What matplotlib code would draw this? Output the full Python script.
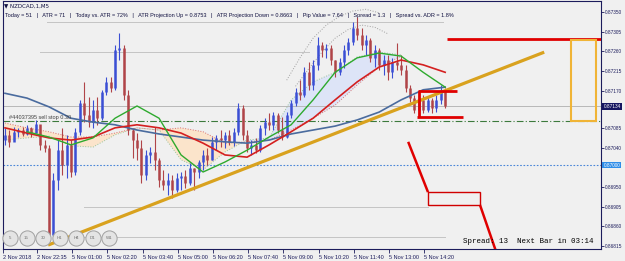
import numpy as np
import matplotlib.pyplot as plt
from matplotlib.patches import Rectangle
import matplotlib.transforms as mtransforms

plt.rcParams['font.family'] = ['Liberation Sans', 'DejaVu Sans']

# all prices below are points (1e-5) above BASE
BASE = 0.868

# candles, each one covers two M5 bars
open_first = 257
close_pts = [269, 253, 276, 280, 271, 285, 273, 294, 246, 239,
             40, 166, 234, 200, 246, 184, 276, 342, 314, 298,
             326, 307, 367, 390, 376, 463, 468, 360, 280, 257,
             239, 177, 223, 230, 212, 166, 154, 166, 143, 170,
             175, 159, 193, 184, 207, 223, 212, 253, 262, 257,
             269, 253, 276, 330, 269, 239, 246, 234, 285, 298,
             292, 314, 280, 264, 314, 342, 367, 360, 412, 383,
             429, 474, 463, 468, 440, 412, 435, 463, 481, 513,
             497, 474, 486, 445, 463, 429, 440, 412, 435, 429,
             417, 376, 353, 326, 349, 326, 349, 330, 349, 372,
             334]
high_pts = [285, 280, 287, 285, 287, 292, 287, 303, 292, 257,
            246, 182, 257, 285, 269, 257, 285, 349, 390, 355,
            349, 355, 372, 401, 401, 474, 502, 474, 372, 285,
            273, 257, 234, 241, 287, 216, 189, 182, 177, 182,
            184, 189, 205, 193, 212, 234, 239, 264, 269, 280,
            276, 280, 285, 342, 337, 280, 257, 262, 292, 307,
            319, 321, 319, 310, 321, 349, 376, 394, 424, 435,
            440, 493, 481, 477, 474, 440, 445, 474, 490, 527,
            538, 513, 497, 490, 474, 468, 452, 452, 445, 479,
            452, 429, 383, 360, 360, 360, 355, 353, 360, 383,
            376]
low_pts = [246, 241, 257, 264, 266, 269, 264, 273, 234, 230,
           17, 29, 143, 177, 170, 173, 177, 269, 298, 287,
           285, 292, 303, 360, 367, 372, 440, 349, 269, 216,
           212, 159, 166, 205, 189, 150, 143, 131, 124, 138,
           143, 147, 154, 143, 170, 189, 200, 212, 234, 241,
           239, 246, 244, 269, 257, 230, 223, 228, 230, 269,
           280, 280, 273, 257, 262, 307, 335, 349, 355, 372,
           372, 417, 447, 445, 429, 401, 406, 422, 452, 474,
           486, 463, 452, 435, 424, 417, 406, 394, 399, 417,
           406, 367, 344, 319, 314, 319, 321, 319, 321, 340,
           330]

# moving averages, read every 5 candles
ma_idx = list(range(0, 101, 5))
blue_ma = [364, 353, 333, 307, 298, 292, 280, 271, 264, 257, 253,
           250, 257, 271, 280, 289, 303, 321, 349, 372, 378]
red_ma = [285, 273, 262, 257, 264, 285, 292, 285, 273, 250, 223,
          218, 246, 276, 307, 349, 390, 424, 440, 429, 412]
green_idx = list(range(5, 101, 5))
green_ma = [276, 264, 246, 262, 307, 335, 307, 223, 184, 207,
            234, 264, 292, 349, 412, 445, 456, 449, 412, 378]

# cloud spans
cloud_idx = list(range(0, 91, 5))
span_a = [257, 262, 266, 244, 241, 269, 285, 280, 212, 189,
          230, 257, 262, 349, 390, 412, 447, 458, 452]
span_b = [296, 285, 276, 264, 264, 273, 285, 280, 285, 276,
          250, 253, 257, 280, 307, 337, 383, 424, 449]

# dotted envelopes above the rally
env1_idx = [64, 67, 70, 73, 76, 79, 82, 85]
env1 = [394, 445, 490, 520, 540, 552, 556, 548]
env2_idx = [66, 69, 72, 75, 78, 81, 84, 87]
env2 = [380, 420, 458, 490, 510, 520, 515, 500]

# gray levels: price, from candle, to candle
level_pts = [527, 458, 104, 35]
level_from = [9.5, 8, 18, 18]
level_to = [99.5, 69, 96, 100]

order_pts = 301
order_label = '#44037395 sell stop 0.30'
alert_pts = 200

# drawn objects (candle index, points)
trend_line = [(9.8, 17), (122.5, 458)]
red_top = [(100.5, 488), (135.4, 488)]
red_box_top = [(93.9, 369), (102.7, 369)]
red_box_bottom = [(93.6, 310), (104.1, 310)]
red_box_left = [(94.1, 310), (94.1, 369)]
red_down1 = [(91.6, 253), (96.1, 138)]
red_small_box = [(96.1, 109), (107.9, 138)]
red_down2 = [(107.9, 109), (111.6, 1)]
orange_box = [(128.6, 301), (134.3, 486)]

price_ticks = [0.87350, 0.87305, 0.87260, 0.87215, 0.87170, 0.87085,
               0.87040, 0.86950, 0.86905, 0.86860, 0.86815]
time_labels = ['2 Nov 22:35', '5 Nov 01:00', '5 Nov 02:20', '5 Nov 03:40',
               '5 Nov 05:00', '5 Nov 06:20', '5 Nov 07:40', '5 Nov 09:00',
               '5 Nov 10:20', '5 Nov 11:40', '5 Nov 13:00', '5 Nov 14:20']
timeframes = ['5', '15', '30', 'H1', 'H4', 'D1', 'W1']

header = ('Today = 51   |   ATR = 71   |   Today vs. ATR = 72%   |   '
          'ATR Projection Up = 0.8753   |   ATR Projection Down = 0.8663   |   '
          'Pip Value = 7.64   |   Spread = 1.3   |   Spread vs. ADR = 1.8%')

UP = '#3b4fd4'
DOWN = '#b04448'
NAVY = '#1c1c5c'
BG = '#f0f0f0'


def p(v):
    return BASE + np.asarray(v, dtype=float) / 1e5


fig = plt.figure(figsize=(6.25, 2.61), dpi=100, facecolor=BG)
ax = fig.add_axes([3 / 625, 12 / 261, 598 / 625, 248 / 261])
ax.set_facecolor(BG)

# cloud
ca, cb = p(span_a), p(span_b)
ax.fill_between(cloud_idx, ca, cb, where=ca >= cb, interpolate=True,
                color='#dde4f7', lw=0, zorder=1)
ax.fill_between(cloud_idx, ca, cb, where=ca < cb, interpolate=True,
                color='#fbe4cb', lw=0, zorder=1)
ax.plot(cloud_idx, ca, color='#9bc59b', lw=0.7, ls=':', zorder=2)
ax.plot(cloud_idx, cb, color='#d87070', lw=0.7, ls=':', zorder=2)
ax.plot(env1_idx, p(env1), color='#a0a0a0', lw=0.7, ls=':', zorder=2)
ax.plot(env2_idx, p(env2), color='#a0a0a0', lw=0.7, ls=':', zorder=2)

# levels
for lv, a, b in zip(level_pts, level_from, level_to):
    ax.plot([a, b], [p(lv), p(lv)], color='#c4c4c4', lw=0.7, zorder=1)
ax.axhline(p(close_pts[-1]), color='#b8b8b8', lw=0.7, zorder=1)
ax.axhline(p(order_pts), color='#3c7a3c', lw=0.8, ls=(0, (6, 2, 1, 2)), zorder=2)
ax.axhline(p(alert_pts), color='#4a86d8', lw=0.8, ls=(0, (1.5, 1.5)), zorder=2)
ax.text(1, p(order_pts) + 0.00003, order_label, fontsize=4, color='#404040',
        va='bottom', zorder=5)

# candles
x = np.arange(len(close_pts))
c = p(close_pts)
o = np.concatenate([[p(open_first)], c[:-1]])
cols = np.where(c >= o, UP, DOWN)
ax.vlines(x, p(low_pts), p(high_pts), colors=cols, lw=0.8, zorder=3)
ax.vlines(x, np.minimum(o, c), np.maximum(o, c), colors=cols, lw=1.8, zorder=3)

# moving averages
ax.plot(ma_idx, p(blue_ma), color='#4a6b9e', lw=1.2, zorder=4)
ax.plot(ma_idx, p(red_ma), color='#d42020', lw=1.2, zorder=4)
ax.plot(green_idx, p(green_ma), color='#2eaa2e', lw=1.0, zorder=4)


# drawn objects
def seg(pts, **kw):
    xs, ys = zip(*pts)
    ax.plot(xs, p(ys), solid_capstyle='butt', zorder=5, **kw)


seg(trend_line, color='#d9a21e', lw=2.3)
for s in (red_top, red_box_top, red_box_bottom, red_box_left):
    seg(s, color='#e00000', lw=2.0)
seg(red_down1, color='#e00000', lw=1.8)
seg(red_down2, color='#e00000', lw=1.8)
(bx0, by0), (bx1, by1) = red_small_box
ax.add_patch(Rectangle((bx0, p(by0)), bx1 - bx0, p(by1) - p(by0), fill=False,
                       ec='#d00000', lw=1.0, zorder=5))
(ox0, oy0), (ox1, oy1) = orange_box
ax.add_patch(Rectangle((ox0, p(oy0)), ox1 - ox0, p(oy1) - p(oy0), fill=False,
                       ec='#f0b436', lw=1.5, zorder=5))

# axes
ax.set_xlim(-0.45, 135.4)
ax.set_ylim(p(8), p(575))
for sp in ax.spines.values():
    sp.set_color(NAVY)
    sp.set_linewidth(0.8)
ax.yaxis.tick_right()
ax.set_yticks(price_ticks)
ax.set_yticklabels([f'{v:.5f}' for v in price_ticks])
ax.tick_params(axis='y', length=2, width=0.6, color=NAVY, labelsize=3.4,
               labelcolor=NAVY, pad=0.8)
tick_pos = [(14.5 + 16 * k) / 2 for k in range(len(time_labels))]
ax.set_xticks([-0.45] + tick_pos)
ax.set_xticklabels(['2 Nov 2018'] + time_labels, ha='left')
ax.tick_params(axis='x', length=3, width=0.6, color=NAVY, labelsize=4,
               labelcolor=NAVY, pad=1.0)

# price tags on the scale
tr = mtransforms.blended_transform_factory(ax.transAxes, ax.transData)
ax.text(1.004, p(close_pts[-1]), f'{p(close_pts[-1]):.5f}', transform=tr,
        fontsize=3.4, color='white', va='center', ha='left', clip_on=False,
        bbox=dict(boxstyle='square,pad=0.2', fc='#151560', ec='none'))
ax.text(1.004, p(alert_pts), f'{p(alert_pts):.5f}', transform=tr,
        fontsize=3.4, color='white', va='center', ha='left', clip_on=False,
        bbox=dict(boxstyle='square,pad=0.2', fc='#2f8de8', ec='none'))

# header
fig.text(4 / 625, 1 - 6 / 261, '\u25bc NZDCAD,1,M5', fontsize=4, color='#101040',
         va='center', family=['DejaVu Sans'])
fig.text(5 / 625, 1 - 15 / 261, header, fontsize=4, color='#101040', va='center')

# timeframe buttons
for k, lab in enumerate(timeframes):
    bx = (10 + 16.5 * k - 3) / 598
    ax.scatter([bx], [0.045], s=120, marker='o', transform=ax.transAxes,
               fc='#e4e4e4', ec='#a0a0a0', lw=0.7, zorder=6, clip_on=False)
    ax.text(bx, 0.045, lab, transform=ax.transAxes, fontsize=3.2,
            color='#707070', ha='center', va='center', zorder=7)

ax.text(0.987, 0.016, 'Spread: 13  Next Bar in 03:14', transform=ax.transAxes,
        fontsize=5.4, family=['Liberation Mono', 'DejaVu Sans Mono'],
        color='black', ha='right', va='bottom', zorder=7)

fig.savefig('out.png', dpi=100, facecolor=BG)
